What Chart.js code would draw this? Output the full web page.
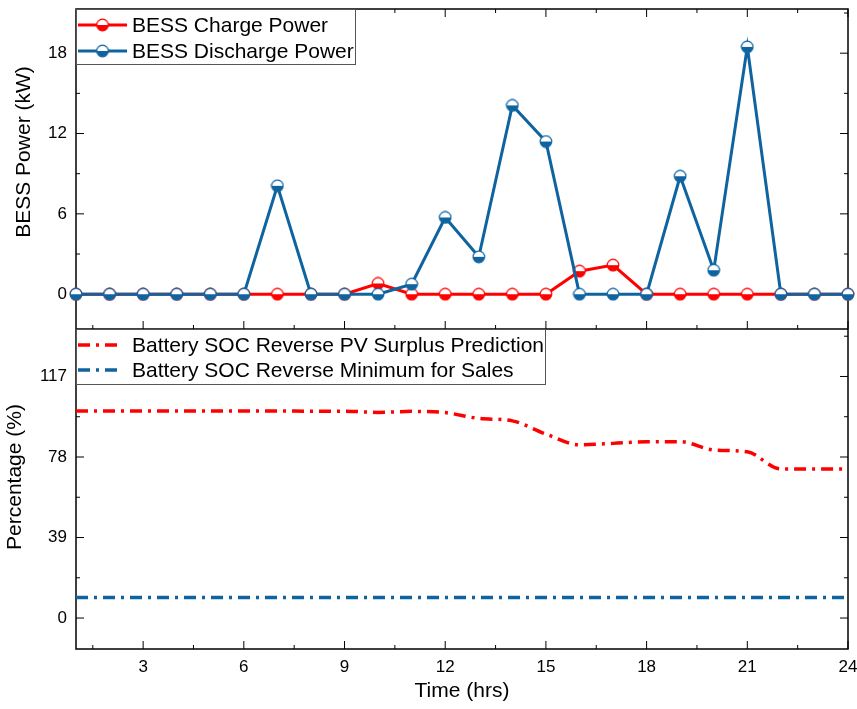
<!DOCTYPE html>
<html>
<head>
<meta charset="utf-8">
<script src="https://cdn.jsdelivr.net/npm/chart.js@4.4.1/dist/chart.umd.min.js"></script>
<style>
  body { margin: 0; background: #fff; }
</style>
</head>
<body>
<canvas id="bessChart" width="857" height="709"></canvas>
<script>
// Data
const hours = [1, 2, 3, 4, 5, 6, 7, 8, 9, 10, 11, 12, 13, 14, 15, 16, 17, 18, 19, 20, 21, 22, 23, 24];
const chargePower = [0, 0, 0, 0, 0, 0, 0, 0, 0, 0.8, 0, 0, 0, 0, 0, 1.72, 2.17, 0, 0, 0, 0, 0, 0, 0];
const dischargePower = [0, 0, 0, 0, 0, 0, 8.09, 0, 0, 0, 0.75, 5.73, 2.79, 14.1, 11.4, 0, 0, 0, 8.81, 1.79, 18.47, 0, 0, 0];
const socPvSurplus = [100.3, 100.3, 100.3, 100.3, 100.3, 100.3, 100.3, 100.2, 100.2, 99.6, 100.1, 99.5, 96.7, 95.5, 89.1, 83.9, 84.6, 85.4, 85.4, 81.4, 80.5, 72.2, 72.2, 72.2];
const socMinSales = [10, 10, 10, 10, 10, 10, 10, 10, 10, 10, 10, 10, 10, 10, 10, 10, 10, 10, 10, 10, 10, 10, 10, 10];
const xTicks = [3, 6, 9, 12, 15, 18, 21, 24];
const powerTicks = [0, 6, 12, 18];
const socTicks = [0, 39, 78, 117];

const RED = '#ff0000';
const BLUE = '#0f64a0';
const FONT = 'Liberation Sans, Arial, sans-serif';

// half-filled circle marker (top white, bottom coloured)
function halfMarker(color) {
    const c = document.createElement('canvas');
    c.width = 14; c.height = 14;
    const g = c.getContext('2d');
    const r = 5.8;
    g.fillStyle = '#fff';
    g.beginPath(); g.arc(7, 7, r, 0, 2 * Math.PI); g.fill();
    g.fillStyle = color;
    g.beginPath(); g.arc(7, 7, r, 0, Math.PI); g.closePath(); g.fill();
    g.strokeStyle = color; g.lineWidth = 1.2;
    g.beginPath(); g.arc(7, 7, r, 0, 2 * Math.PI); g.stroke();
    return c;
}
const redMarker = halfMarker(RED);
const blueMarker = halfMarker(BLUE);
const dashDot = [12, 6, 3, 6];

// frame, inward ticks, y titles
const framePlugin = {
    id: 'frame',
    beforeDatasetsDraw(chart) {
        const { ctx, chartArea: a, scales } = chart;
        const mid = scales.yP.bottom;
        ctx.save();
        ctx.strokeStyle = '#000';
        ctx.lineWidth = 1.5;
        ctx.strokeRect(a.left, a.top, a.right - a.left, a.bottom - a.top);
        ctx.beginPath(); ctx.moveTo(a.left, mid); ctx.lineTo(a.right, mid); ctx.stroke();

        ctx.lineWidth = 1;
        const seg = (x1, y1, x2, y2) => { ctx.beginPath(); ctx.moveTo(x1, y1); ctx.lineTo(x2, y2); ctx.stroke(); };
        const withMinor = (scale, majors) => {
            const step = majors[1] - majors[0];
            const out = [];
            for (let v = majors[0] - step; v <= scale.max + 1e-9; v += step / 2) {
                if (v >= scale.min - 1e-9) out.push({ v, major: majors.includes(+v.toFixed(6)) });
            }
            return out;
        };
        const xs = scales.x;
        withMinor(xs, xTicks).forEach(t => {
            const px = xs.getPixelForValue(t.v);
            const len = t.major ? 8 : 4;
            seg(px, a.top, px, a.top + len);
            seg(px, mid, px, mid - len);
            seg(px, a.bottom, px, a.bottom - len);
        });
        [[scales.yP, powerTicks], [scales.yS, socTicks]].forEach(([ys, majors]) => {
            withMinor(ys, majors).forEach(t => {
                const py = ys.getPixelForValue(t.v);
                const len = t.major ? 8 : 4;
                seg(a.left, py, a.left + len, py);
                seg(a.right, py, a.right - len, py);
            });
        });

        // axis titles
        ctx.fillStyle = '#000';
        ctx.font = '21px ' + FONT;
        ctx.textAlign = 'center';
        ctx.textBaseline = 'middle';
        const vTitle = (text, x, y) => {
            ctx.save(); ctx.translate(x, y); ctx.rotate(-Math.PI / 2); ctx.fillText(text, 0, 0); ctx.restore();
        };
        vTitle('BESS Power (kW)', 24, (scales.yP.top + scales.yP.bottom) / 2 - 17);
        vTitle('Percentage (%)', 15, (scales.yS.top + scales.yS.bottom) / 2 - 12);
        ctx.restore();
    }
};

// legends inside each panel
const legendPlugin = {
    id: 'panelLegends',
    afterDatasetsDraw(chart) {
        const { ctx, chartArea: a, scales } = chart;
        const mid = scales.yP.bottom;
        const ds = chart.data.datasets;
        ctx.save();
        const box = (top, w) => {
            ctx.fillStyle = '#fff';
            ctx.fillRect(a.left, top, w, 55);
            ctx.strokeStyle = '#555';
            ctx.lineWidth = 1;
            ctx.strokeRect(a.left + 0.5, top + 0.5, w, 55);
        };
        const entry = (d, y, lineLen) => {
            ctx.strokeStyle = d.borderColor;
            ctx.lineWidth = d.borderWidth;
            ctx.setLineDash(d.borderDash || []);
            ctx.beginPath(); ctx.moveTo(a.left + 2, y); ctx.lineTo(a.left + 2 + lineLen, y); ctx.stroke();
            ctx.setLineDash([]);
            if (d.pointStyle instanceof HTMLCanvasElement) {
                const m = d.pointStyle;
                ctx.drawImage(m, a.left + 2 + lineLen / 2 - m.width / 2, y - m.height / 2);
            }
            ctx.fillStyle = '#000';
            ctx.font = '21px ' + FONT;
            ctx.textAlign = 'left';
            ctx.textBaseline = 'middle';
            ctx.fillText(d.label, a.left + 56, y + 1);
        };
        box(a.top, 279);
        entry(ds[0], a.top + 16, 49);
        entry(ds[1], a.top + 42, 49);
        box(mid, 469);
        entry(ds[2], mid + 16, 43);
        entry(ds[3], mid + 41, 43);
        ctx.restore();
    }
};

const ctx = document.getElementById('bessChart').getContext('2d');
const bessChart = new Chart(ctx, {
    type: 'line',
    data: {
        labels: hours,
        datasets: [
            {
                label: 'BESS Charge Power',
                data: chargePower,
                yAxisID: 'yP',
                borderColor: RED,
                backgroundColor: RED,
                borderWidth: 3,
                pointStyle: redMarker,
                pointRadius: 6,
                clip: false,
                order: 2
            },
            {
                label: 'BESS Discharge Power',
                data: dischargePower,
                yAxisID: 'yP',
                borderColor: BLUE,
                backgroundColor: BLUE,
                borderWidth: 3,
                pointStyle: blueMarker,
                pointRadius: 6,
                clip: false,
                order: 1
            },
            {
                label: 'Battery SOC Reverse PV Surplus Prediction',
                data: socPvSurplus,
                yAxisID: 'yS',
                borderColor: RED,
                borderWidth: 3.5,
                borderDash: dashDot,
                pointRadius: 0,
                cubicInterpolationMode: 'monotone',
                order: 3
            },
            {
                label: 'Battery SOC Reverse Minimum for Sales',
                data: socMinSales,
                yAxisID: 'yS',
                borderColor: BLUE,
                borderWidth: 3.5,
                borderDash: dashDot,
                pointRadius: 0,
                order: 4
            }
        ]
    },
    options: {
        responsive: false,
        animation: false,
        layout: { padding: 0 },
        plugins: { legend: { display: false }, tooltip: { enabled: false } },
        elements: { line: { tension: 0 } },
        scales: {
            x: {
                type: 'linear',
                min: 1,
                max: 24,
                grid: { display: false, drawTicks: false },
                border: { display: false },
                afterBuildTicks: s => { s.ticks = xTicks.map(v => ({ value: v })); },
                afterFit: s => {
                    s.height = 60;
                    s.paddingLeft = 0; s.paddingRight = 8; s.paddingTop = 0; s.paddingBottom = 0;
                },
                ticks: { color: '#000', padding: 8, font: { size: 17, family: FONT } },
                title: {
                    display: true,
                    text: 'Time (hrs)',
                    color: '#000',
                    font: { size: 21, family: FONT },
                    padding: { top: 2, bottom: 5 }
                }
            },
            yP: {
                type: 'linear',
                position: 'left',
                stack: 'panels',
                stackWeight: 1,
                weight: 2,
                min: -2.6,
                max: 21.3,
                grid: { display: false, drawTicks: false },
                border: { display: false },
                afterBuildTicks: s => { s.ticks = powerTicks.map(v => ({ value: v })); },
                afterFit: s => {
                    s.width = 76;
                    s.paddingTop = 9; s.paddingBottom = 0; s.paddingLeft = 0; s.paddingRight = 0;
                },
                ticks: { color: '#000', padding: 9, font: { size: 17, family: FONT } }
            },
            yS: {
                type: 'linear',
                position: 'left',
                stack: 'panels',
                stackWeight: 1,
                weight: 1,
                min: -15,
                max: 140,
                grid: { display: false, drawTicks: false },
                border: { display: false },
                afterBuildTicks: s => { s.ticks = socTicks.map(v => ({ value: v })); },
                afterFit: s => {
                    s.width = 76;
                    s.paddingTop = 0; s.paddingBottom = 0; s.paddingLeft = 0; s.paddingRight = 0;
                },
                ticks: { color: '#000', padding: 9, font: { size: 17, family: FONT } }
            }
        }
    },
    plugins: [framePlugin, legendPlugin]
});
</script>
</body>
</html>
